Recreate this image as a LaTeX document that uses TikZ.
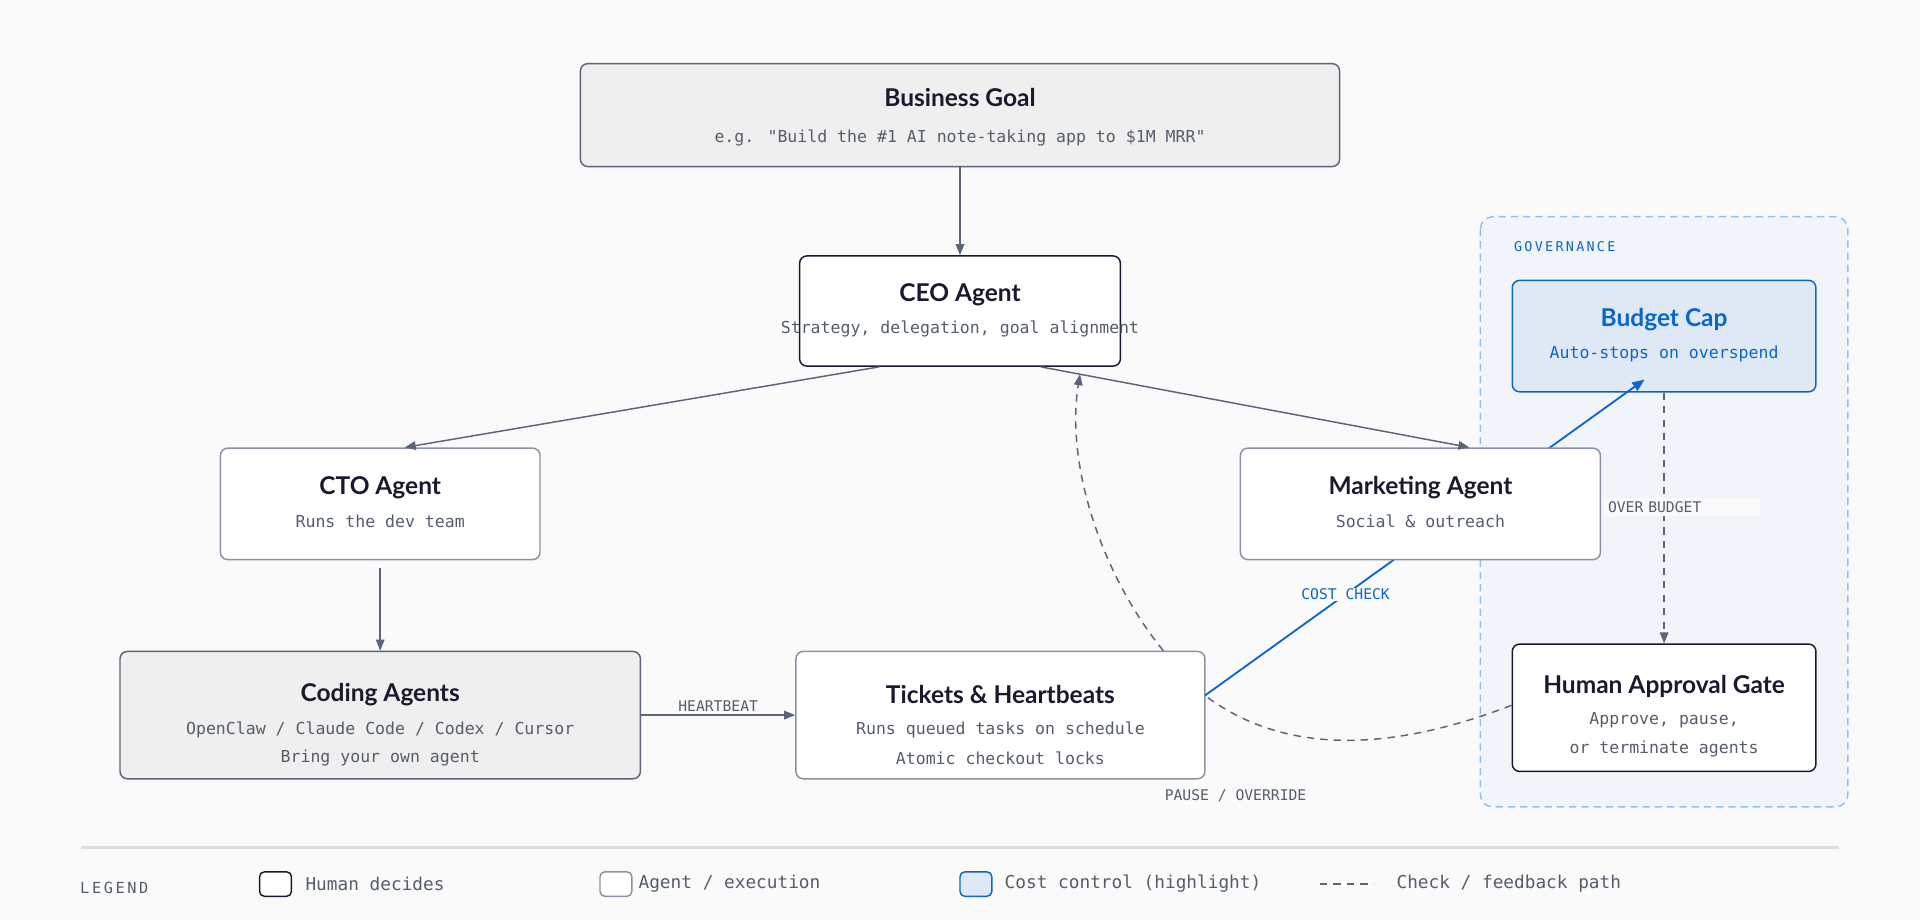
\documentclass[tikz,border=0pt]{standalone}
\usepackage{fontspec}
\setmainfont{Lato}
\newfontfamily\monof{DejaVu Sans Mono}
\usetikzlibrary{arrows.meta,calc}
\definecolor{ink}{HTML}{1A1A2E}
\definecolor{subink}{HTML}{555D6B}
\definecolor{edge}{HTML}{5B6577}
\definecolor{agentedge}{HTML}{8A93A3}
\definecolor{goalfill}{HTML}{EFEFEF}
\definecolor{costblue}{HTML}{0A66CC}
\definecolor{costfill}{HTML}{DFE9F5}
\definecolor{govline}{HTML}{90C0EE}
\definecolor{govfill}{HTML}{F1F5F9}
\definecolor{bg}{HTML}{FAFAFA}
\tikzset{
  box/.style={draw, rounded corners=6pt, line width=1.2pt},
  human/.style={box, draw=ink, fill=white},
  agent/.style={box, draw=agentedge, fill=white},
  goal/.style={box, draw=edge, fill=goalfill},
  cost/.style={box, draw=costblue, fill=costfill},
  ttl/.style={font=\bfseries\fontsize{20}{22}\selectfont, text=ink},
  sub/.style={font=\monof\fontsize{13.5}{16}\selectfont, text=subink},
  tag/.style={font=\monof\fontsize{12}{14}\selectfont, text=subink},
  flow/.style={draw=edge, line width=1.2pt, -{Triangle[length=9pt,width=7pt]}},
  check/.style={draw=edge, line width=1.2pt, dash pattern=on 6pt off 5pt},
}
\begin{document}
\begin{tikzpicture}[x=1pt,y=-1pt]
\fill[bg] (0,0) rectangle (1568,751);
\useasboundingbox (0,0) rectangle (1568,751);

% governance panel
\draw[govline, fill=govfill, line width=1.2pt, dash pattern=on 6pt off 4pt, rounded corners=10pt]
  (1209,177) rectangle (1509,659);
\node[anchor=west, font=\monof\fontsize{11}{13}\selectfont, text=costblue] (gov) at (1233,201) {G\,O\,V\,E\,R\,N\,A\,N\,C\,E};

% boxes
\node[goal, minimum width=620pt, minimum height=84pt] (goal) at (784,94) {};
\node[human, minimum width=262pt, minimum height=90pt] (ceo) at (784,254) {};
\node[agent, minimum width=261pt, minimum height=91pt] (cto) at (310.5,411.5) {};
\node[goal, minimum width=425pt, minimum height=104pt] (coding) at (310.5,584) {};
\node[agent, minimum width=334pt, minimum height=104pt] (tickets) at (817,584) {};
\node[cost, minimum width=248pt, minimum height=91pt] (budget) at (1359,274.5) {};
\node[human, minimum width=248pt, minimum height=104pt] (gate) at (1359,578) {};

% cost check line runs behind the marketing box
\coordinate (cc) at (984,568);
\draw[costblue, line width=1.5pt, -{Triangle[length=10pt,width=8pt]}] (cc) -- (1343,310)
  node[pos=0.32, fill=bg, inner sep=1pt, font=\monof\fontsize{12}{14}\selectfont, text=costblue] (cclab) {COST CHECK};
\node[agent, minimum width=294pt, minimum height=91pt] (mkt) at (1160,411.5) {};

% texts
\node[ttl] (goalt) at (784,80) {Business Goal};
\node[sub] (goals) at (784,113) {e.g. "Build the \#1 AI note-taking app to \$1M MRR"};
\node[ttl] (ceot) at (784,241) {CEO Agent};
\node[sub] (ceos) at (784,269) {Strategy, delegation, goal alignment};
\node[ttl] (ctot) at (310.5,398) {CTO Agent};
\node[sub] (ctos) at (310.5,426) {Runs the dev team};
\node[ttl] (mktt) at (1160,398) {Marketing Agent};
\node[sub] (mkts) at (1160,426) {Social \& outreach};
\node[ttl] (codingt) at (310.5,567) {Coding Agents};
\node[sub] (codings) at (310.5,596) {OpenClaw / Claude Code / Codex / Cursor};
\node[sub] (codings2) at (310.5,619) {Bring your own agent};
\node[ttl] (tickt) at (817,567) {Tickets \& Heartbeats};
\node[sub] (ticks) at (817,596) {Runs queued tasks on schedule};
\node[sub] (ticks2) at (817,619) {Atomic checkout locks};
\node[ttl, text=costblue] (budt) at (1359,261) {Budget Cap};
\node[sub, text=costblue] (buds) at (1359,289) {Auto-stops on overspend};
\node[ttl] (gatet) at (1359,561) {Human Approval Gate};
\node[sub] (gates) at (1359,588) {Approve, pause,};
\node[sub] (gates2) at (1359,612) {or terminate agents};

% connectors
\draw[flow] (goal.south) -- (ceo.north);
\draw[flow] ($(ceo.south)+(-66,0)$) -- ($(cto.north)+(20,0)$);
\draw[flow] ($(ceo.south)+(66,0)$) -- ($(mkt.north)+(40,0)$);
\draw[flow] ($(cto.south)+(0,6)$) -- (coding.north);
\draw[flow] (coding.east) -- node[tag, above, yshift=-1pt] (hb) {HEARTBEAT} (tickets.east -| tickets.west);
\draw[check, -{Triangle[length=9pt,width=7pt]}] (budget.south) -- (gate.north);
\node[tag, fill=bg, anchor=west, inner sep=3pt, text width=121pt] (ob) at (1310,414) {OVER BUDGET};
\draw[check] (gate.west) ++(0,-2) .. controls (1120,620) and (1040,610) .. (cc);
\draw[check, -{Triangle[length=9pt,width=7pt]}] ($(tickets.north)+(133,0)$) .. controls (900,470) and (870,380) .. ($(ceo.south)+(98,6)$);
\node[tag] (po) at (1009,650) {PAUSE / OVERRIDE};

% legend
\draw[draw=black!13, line width=2pt] (66,692) -- (1502,692);
\node[anchor=west, font=\monof\fontsize{12.5}{14}\selectfont, text=subink] (leg) at (62,725) {L\,E\,G\,E\,N\,D};
\draw[human, rounded corners=4pt] (212,712) rectangle (238,732);
\node[anchor=west, sub, font=\monof\fontsize{14.5}{16}\selectfont] (l1) at (246,722) {Human decides};
\draw[agent, rounded corners=4pt] (490,712) rectangle (516,732);
\node[anchor=west, sub, font=\monof\fontsize{14.5}{16}\selectfont] (l2) at (518,722) {Agent / execution};
\draw[cost, rounded corners=4pt] (784,712) rectangle (810,732);
\node[anchor=west, sub, font=\monof\fontsize{14.5}{16}\selectfont] (l3) at (817,722) {Cost control (highlight)};
\draw[check] (1078,722) -- (1122,722);
\node[anchor=west, sub, font=\monof\fontsize{14.5}{16}\selectfont] (l4) at (1137,722) {Check / feedback path};
\end{tikzpicture}
\end{document}
